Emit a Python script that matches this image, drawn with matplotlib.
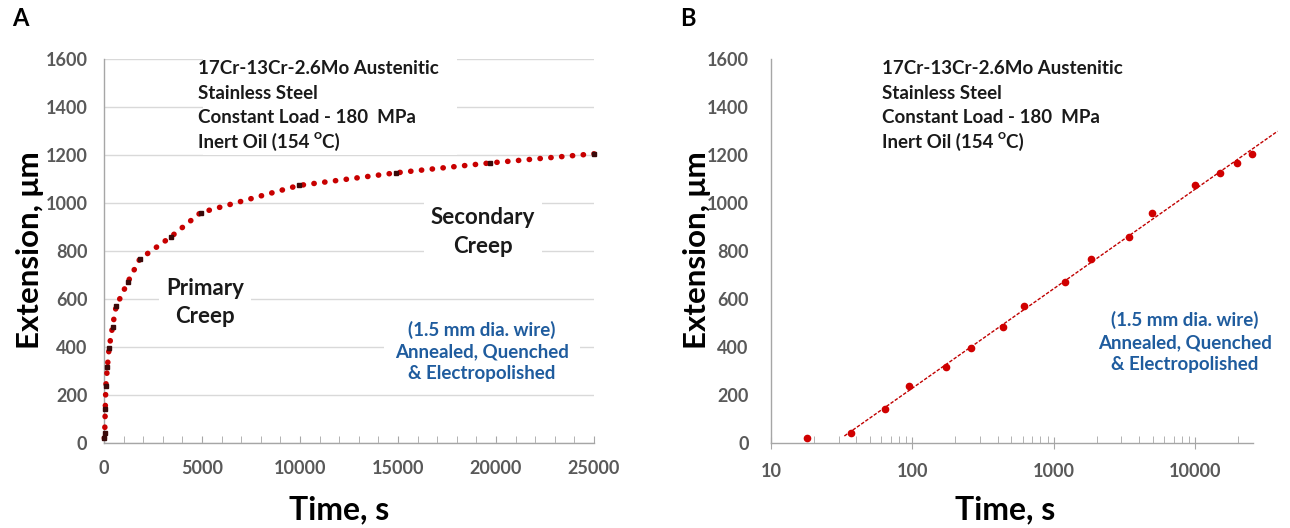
import numpy as np
import matplotlib.pyplot as plt
from matplotlib.patches import Rectangle
from matplotlib.ticker import MultipleLocator, LogLocator, FixedLocator, NullFormatter

plt.rcParams['font.family'] = ['Lato', 'DejaVu Sans']

# данные ползучести: время (с) и удлинение (мкм)
time_s = [18, 37, 64, 94, 173, 260, 434, 618, 1205, 1823, 3411, 4932, 9930, 14920, 19700, 25000]
extension = [20, 42, 140, 238, 317, 395, 485, 569, 669, 766, 859, 960, 1073, 1126, 1167, 1205]

info_lines = ["17Cr-13Cr-2.6Mo Austenitic", "Stainless Steel",
              "Constant Load - 180  MPa", "Inert Oil (154 ᴼC)"]
wire_text = "(1.5 mm dia. wire)\nAnnealed, Quenched\n& Electropolished"

gray = '#595959'
spine = '#a6a6a6'
red = '#c00000'
blue = '#1f5c9e'
dark = '#1a1a1a'

fig = plt.figure(figsize=(12.9, 5.28), dpi=100)
axA = fig.add_axes([104 / 1290, 85 / 528, 490 / 1290, 384 / 528])
axB = fig.add_axes([771 / 1290, 85 / 528, 482 / 1290, 384 / 528])

white_box = dict(facecolor='white', edgecolor='none', pad=5)


def info_block(ax, x0):
    for i, line in enumerate(info_lines):
        ax.text(x0, 0.974 - i * 0.0633, line, transform=ax.transAxes, ha='left', va='center',
                fontsize=13.5, fontweight='bold', color=dark, zorder=2,
                family=['Lato', 'DejaVu Sans'])


# --- панель A: линейная шкала ---
axA.set_xlim(0, 25000)
axA.set_ylim(0, 1600)
axA.yaxis.set_major_locator(MultipleLocator(200))
axA.xaxis.set_major_locator(MultipleLocator(5000))
axA.xaxis.set_minor_locator(MultipleLocator(1000))
axA.grid(axis='y', color='#d9d9d9', lw=1, zorder=0)
axA.set_axisbelow(True)
axA.add_patch(Rectangle((0.202, 0.75), 0.518, 0.28, transform=axA.transAxes,
                        facecolor='white', edgecolor='none', clip_on=False, zorder=1))
axA.plot(time_s, extension, color='#c80000', lw=4, ls=(0, (0.05, 1.9)),
         dash_capstyle='round', clip_on=False, zorder=3)
axA.plot(time_s, extension, 's', ms=2.8, color='#3a0a0a', clip_on=False, zorder=4)
info_block(axA, 0.192)
axA.text(0.773, 0.549, "Secondary\nCreep", transform=axA.transAxes, ha='center', va='center',
         fontsize=16, fontweight='bold', color=dark, linespacing=1.5,
         bbox=white_box, zorder=2)
axA.text(0.206, 0.366, "Primary\nCreep", transform=axA.transAxes, ha='center', va='center',
         fontsize=16, fontweight='bold', color=dark, linespacing=1.4,
         bbox=white_box, zorder=2)
axA.text(0.771, 0.238, wire_text, transform=axA.transAxes, ha='center', va='center',
         fontsize=13.5, fontweight='bold', color=blue, linespacing=1.33,
         bbox=dict(facecolor='white', edgecolor='none', pad=8), zorder=2)
axA.tick_params(axis='x', which='both', direction='in', length=5, color=spine,
                labelsize=13, labelcolor=gray, pad=12)
axA.tick_params(axis='y', length=0, labelsize=13, labelcolor=gray, pad=12)

# --- панель B: логарифмическая шкала ---
logt = np.log10(time_s)
k, b = np.polyfit(logt[1:], extension[1:], 1)
t_fit = np.array([33, 38000])
axB.set_xscale('log')
axB.set_xlim(10, 25500)
axB.set_ylim(0, 1600)
axB.yaxis.set_major_locator(MultipleLocator(200))
axB.xaxis.set_major_locator(FixedLocator([10, 100, 1000, 10000]))
axB.xaxis.set_major_formatter(plt.FuncFormatter(lambda v, p: f'{int(v)}'))
axB.xaxis.set_minor_locator(LogLocator(base=10, subs=np.arange(2, 10)))
axB.xaxis.set_minor_formatter(NullFormatter())
axB.plot(t_fit, k * np.log10(t_fit) + b, color=red, lw=1, ls=(0, (2.5, 1.2)),
         clip_on=False, zorder=3)
axB.plot(time_s, extension, 'o', ms=4.5, color='#d00000', clip_on=False, zorder=4)
info_block(axB, 0.230)
axB.text(0.859, 0.263, wire_text, transform=axB.transAxes, ha='center', va='center',
         fontsize=13.5, fontweight='bold', color=blue, linespacing=1.33)
axB.tick_params(axis='x', which='major', direction='inout', length=9, color=spine,
                labelsize=13, labelcolor=gray, pad=10)
axB.tick_params(axis='x', which='minor', direction='in', length=5, color=spine)
axB.tick_params(axis='y', length=0, labelsize=13, labelcolor=gray, pad=16)

for ax, xl, yl in ((axA, 0.48, -0.151), (axB, 0.486, -0.154)):
    for s in ('top', 'right'):
        ax.spines[s].set_visible(False)
    for s in ('left', 'bottom'):
        ax.spines[s].set_color(spine)
        ax.spines[s].set_linewidth(1)
    ax.set_xlabel('Time, s', fontsize=23, fontweight='bold', va='center')
    ax.set_ylabel('Extension, μm', fontsize=22.5, fontweight='bold', va='center')
    ax.xaxis.set_label_coords(xl, -67 / 384)
    ax.yaxis.set_label_coords(yl, 0.503)
    for lab in ax.get_xticklabels() + ax.get_yticklabels():
        lab.set_fontweight('bold')

fig.text(12 / 1290, 1 - 18 / 528, 'A', fontsize=17, fontweight='bold', va='center')
fig.text(680 / 1290, 1 - 18 / 528, 'B', fontsize=17, fontweight='bold', va='center')

fig.savefig('out.png', dpi=100)
